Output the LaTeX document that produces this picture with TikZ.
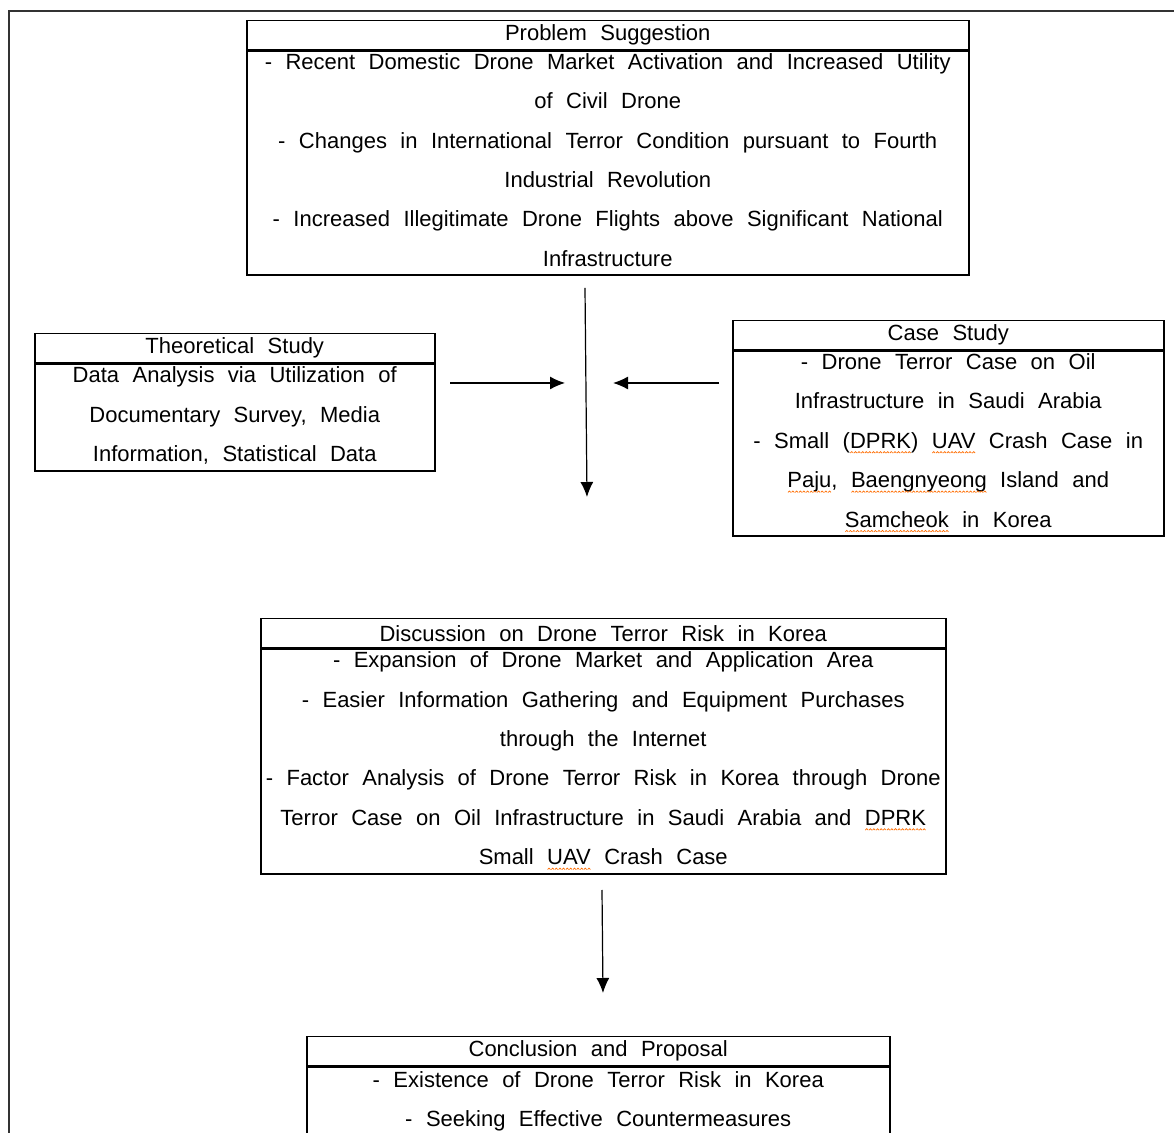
\documentclass[tikz,border=0pt]{standalone}
\usepackage{fontspec}
\setmainfont{Liberation Sans}[WordSpace=2.2]
\usepackage{xcolor}
\usetikzlibrary{positioning}
\usetikzlibrary{arrows.meta}
\tikzset{>={Latex[length=7.5pt,width=6.5pt]}}
\colorlet{spellcol}{orange!85!red}
\newsavebox\splbox
\newcommand\wavebit{\tikz[x=1pt,y=1pt,baseline=0pt]\draw[spellcol, line width=0.35pt] (0,0) -- (0.7,0.7) -- (1.4,0);}
\newcommand\spl[1]{\sbox\splbox{#1}\rlap{\usebox\splbox}\raisebox{-2.4pt}[0pt][0pt]{\hbox to \wd\splbox{\xleaders\hbox{\wavebit}\hfill}}}
\tikzset{boxhead/.style = {draw, line width=0.75pt, inner sep=0pt, minimum height=14.5pt, font=\fontsize{11}{13}\selectfont}}
\tikzset{boxbody/.style = {draw, line width=0.75pt, inner sep=0pt, align=center, text depth=3.5pt, font=\fontsize{11}{19.7}\selectfont}}

\begin{document}
\begin{tikzpicture}[x=0.5pt, y=-0.5pt]
  \clip (0,0) rectangle (1174,1133);
  \draw[line width=0.8pt, black!80] (9,1150) -- (9,11) -- (1190,11);

  \node[boxhead, minimum width=361pt, anchor=north west] (probhead) at (246,20) {Problem Suggestion};
  \node[boxbody, minimum width=361pt, minimum height=112pt, below=0pt of probhead] (probbody)
    {- Recent Domestic Drone Market Activation and Increased Utility\\
     of Civil Drone\\
     - Changes in International Terror Condition pursuant to Fourth\\
     Industrial Revolution\\
     - Increased Illegitimate Drone Flights above Significant National\\
     Infrastructure};

  \node[boxhead, minimum width=200pt, anchor=north west] (theohead) at (34,333) {Theoretical Study};
  \node[boxbody, minimum width=200pt, minimum height=53.5pt, below=0pt of theohead] (theobody)
    {Data Analysis via Utilization of\\
     Documentary Survey, Media\\
     Information, Statistical Data};

  \node[boxhead, minimum width=215.5pt, anchor=north west] (casehead) at (732,320) {Case Study};
  \node[boxbody, minimum width=215.5pt, minimum height=92.5pt, below=0pt of casehead] (casebody)
    {- Drone Terror Case on Oil\\
     Infrastructure in Saudi Arabia\\
     - Small (\spl{DPRK}) \spl{UAV} Crash Case in\\
     \spl{Paju}, \spl{Baengnyeong} Island and\\
     \spl{Samcheok} in Korea};

  \node[boxhead, minimum width=342.5pt, anchor=north west] (dischead) at (260,618) {Discussion on Drone Terror Risk in Korea};
  \node[boxbody, minimum width=342.5pt, minimum height=112.5pt, below=0pt of dischead] (discbody)
    {- Expansion of Drone Market and Application Area\\
     - Easier Information Gathering and Equipment Purchases\\
     through the Internet\\
     - Factor Analysis of Drone Terror Risk in Korea through Drone\\
     Terror Case on Oil Infrastructure in Saudi Arabia and \spl{DPRK}\\
     Small \spl{UAV} Crash Case};

  \node[boxhead, minimum width=291.5pt, anchor=north west] (conchead) at (306,1036) {Conclusion and Proposal};
  \node[boxbody, minimum width=291.5pt, minimum height=35pt, below=0pt of conchead] (concbody)
    {- Existence of Drone Terror Risk in Korea\\
     - Seeking Effective Countermeasures};

  \coordinate (probout) at (585,288);
  \coordinate (merge) at (587,497);
  \coordinate (theoout) at (450,383);
  \coordinate (theoin) at (565,383);
  \coordinate (caseout) at (719,383);
  \coordinate (casein) at (613,383);
  \coordinate (discout) at (602,890);
  \coordinate (concin) at (603,993);

  \draw[->, line width=0.6pt] (probout) -- (merge);
  \draw[->, line width=0.6pt] (theoout) -- (theoin);
  \draw[->, line width=0.6pt] (caseout) -- (casein);
  \draw[->, line width=0.6pt] (discout) -- (concin);
\end{tikzpicture}
\end{document}
